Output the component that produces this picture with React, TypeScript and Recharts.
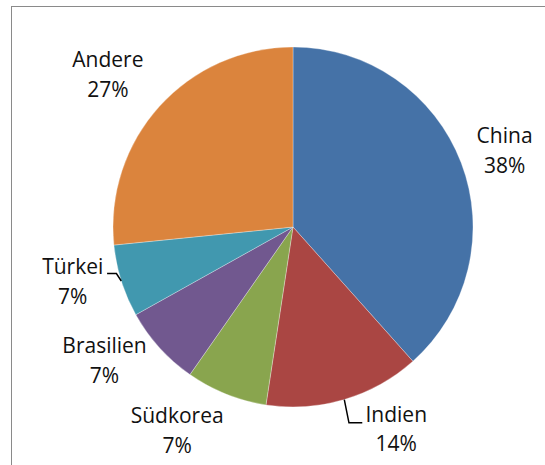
import React from "react";
import { PieChart, Pie, Cell } from "recharts";

const countries = ["China", "Indien", "Südkorea", "Brasilien", "Türkei", "Andere"];
const shares = [38.4, 14.0, 7.3, 7.2, 6.5, 26.6];
const colors = ["#4572A7", "#AA4643", "#89A54E", "#71588F", "#4198AF", "#DB843D"];

const data = countries.map((name, i) => ({ name, value: shares[i] }));

// label layout: angle nudge (deg, clockwise) and distance from centre; leader flags
const labelLayout = [
  { da: 1.0, r: 225, leader: null },
  { da: -10.5, r: 227, leader: { cx: -47.3, ex: -34, y: -6.3 } },
  { da: 7.9, r: 234, leader: null },
  { da: 6.8, r: 231, leader: null },
  { da: 3.5, r: 227, leader: { cx: 43.7, ex: 34.4, y: -8.2 } },
  { da: -2.6, r: 240, leader: null },
];

const RAD = Math.PI / 180;
const FONT = "'Open Sans', sans-serif";

const renderLabel = (props: any) => {
  const { cx, cy, midAngle, outerRadius, percent, index, name } = props;
  const lay = labelLayout[index];
  const theta = 90 - midAngle + lay.da; // clockwise from top
  const lx = cx + lay.r * Math.sin(theta * RAD);
  const ly = cy - lay.r * Math.cos(theta * RAD);
  const pct = Math.round(percent * 100) + "%";
  let leader = null;
  if (lay.leader) {
    const t0 = 90 - midAngle;
    const sx = cx + outerRadius * Math.sin(t0 * RAD);
    const sy = cy - outerRadius * Math.cos(t0 * RAD);
    const pts = `${sx},${sy} ${lx + lay.leader.cx},${ly + lay.leader.y} ${lx + lay.leader.ex},${ly + lay.leader.y}`;
    leader = <polyline points={pts} fill="none" stroke="#000" strokeWidth={1.5} />;
  }
  return (
    <g key={`lbl-${index}`}>
      {leader}
      <text x={lx} y={ly - 7.5} textAnchor="middle" fontFamily={FONT} fontSize={21} fill="#111">
        {name}
      </text>
      <text x={lx} y={ly + 22.3} textAnchor="middle" fontFamily={FONT} fontSize={21} fill="#111">
        {pct}
      </text>
    </g>
  );
};

export default function App() {
  return (
    <div style={{ position: "absolute", left: 0, top: 0, width: 545, height: 465, overflow: "hidden", background: "#fff" }}>
      <div
        style={{
          position: "absolute",
          left: 11,
          top: 6,
          width: 600,
          height: 600,
          border: "1.5px solid #8a8a8a",
          boxSizing: "border-box",
        }}
      />
      <div style={{ position: "absolute", left: 0, top: 0 }}>
        <PieChart width={545} height={465} margin={{ top: 0, right: 0, bottom: 0, left: 0 }}>
          <Pie
            data={data}
            dataKey="value"
            nameKey="name"
            cx={293}
            cy={227}
            outerRadius={180}
            startAngle={90}
            endAngle={-270}
            isAnimationActive={false}
            label={renderLabel}
            labelLine={false}
            stroke="#ffffff"
            strokeOpacity={0.5}
            strokeWidth={0.6}
          >
            {data.map((d, i) => (
              <Cell key={d.name} fill={colors[i]} />
            ))}
          </Pie>
        </PieChart>
      </div>
    </div>
  );
}
